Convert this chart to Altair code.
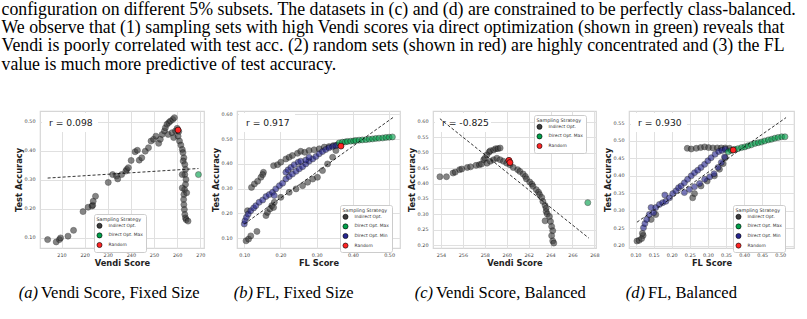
import altair as alt
import pandas as pd

# ---------------- data ----------------
# Panel (a): Vendi Score, Fixed Size
a_ind_x = [204.0, 207.7, 209.1, 209.6, 212.8, 215.2, 219.3, 221.5, 223.2, 223.5, 223.7, 224.7, 230.2, 232.1, 233.8,
           234.3, 236.0, 237.8, 238.2, 238.9, 240.1, 241.8, 242.8, 243.6, 244.7, 246.2, 247.6, 248.7, 249.8, 250.8,
           252.0, 252.7, 253.5, 254.5, 254.9, 255.6, 256.4, 257.1, 258.1, 258.8, 256.1, 257.8, 258.5, 259.3, 260.0,
           260.7, 260.4, 261.0, 261.6, 262.2, 262.5, 262.9, 262.6, 263.3, 263.6, 263.3, 263.8, 263.6, 263.2, 262.9,
           262.8, 262.9, 263.1, 263.3, 263.6, 263.9, 264.7, 262.2, 264.1, 262.2]
a_ind_y = [0.093, 0.085, 0.093, 0.099, 0.105, 0.125, 0.190, 0.205, 0.209, 0.212, 0.226, 0.243, 0.291, 0.318, 0.313,
           0.303, 0.318, 0.330, 0.336, 0.342, 0.367, 0.397, 0.402, 0.368, 0.376, 0.399, 0.411, 0.434, 0.440, 0.451,
           0.426, 0.440, 0.457, 0.469, 0.480, 0.492, 0.498, 0.503, 0.509, 0.515, 0.457, 0.463, 0.446, 0.469, 0.478,
           0.467, 0.451, 0.434, 0.420, 0.405, 0.394, 0.376, 0.365, 0.353, 0.336, 0.318, 0.301, 0.284, 0.266, 0.249,
           0.232, 0.214, 0.197, 0.180, 0.168, 0.162, 0.157, 0.272, 0.255, 0.318]
a_max_x = [269.2]
a_max_y = [0.318]
a_rnd_x = [260.4]
a_rnd_y = [0.472]
a_fit_x = [204.0, 269.2]
a_fit_y = [0.306, 0.339]

# Panel (b): FL, Fixed Size
b_ind_x = [0.120, 0.128, 0.137, 0.146, 0.153, 0.151, 0.181, 0.192, 0.201, 0.215, 0.224, 0.233, 0.247, 0.256, 0.267,
           0.279, 0.293, 0.307, 0.321, 0.334, 0.346, 0.357,
           0.105, 0.112, 0.118, 0.135, 0.160, 0.164, 0.171, 0.176, 0.183, 0.181, 0.201, 0.224, 0.243, 0.261, 0.275,
           0.289, 0.302, 0.316, 0.330, 0.344, 0.353, 0.109]
b_ind_y = [0.305, 0.319, 0.330, 0.346, 0.366, 0.357, 0.393, 0.397, 0.407, 0.420, 0.427, 0.434, 0.443, 0.451, 0.447,
           0.454, 0.457, 0.461, 0.468, 0.470, 0.474, 0.477,
           0.089, 0.096, 0.109, 0.127, 0.191, 0.204, 0.218, 0.231, 0.245, 0.224, 0.265, 0.285, 0.299, 0.312, 0.326,
           0.339, 0.346, 0.373, 0.400, 0.427, 0.454, 0.211]
b_min_x = [0.100, 0.102, 0.106, 0.111, 0.118, 0.126, 0.132, 0.141, 0.151, 0.160, 0.169, 0.178, 0.187, 0.197, 0.206,
           0.215, 0.224, 0.233, 0.243, 0.252, 0.261, 0.270, 0.279, 0.289, 0.298, 0.307, 0.316, 0.325, 0.334, 0.344,
           0.353, 0.215, 0.221, 0.229, 0.238, 0.249, 0.256, 0.270, 0.279, 0.183]
b_min_y = [0.157, 0.170, 0.184, 0.197, 0.211, 0.222, 0.231, 0.245, 0.254, 0.268, 0.276, 0.285, 0.299, 0.312, 0.322,
           0.339, 0.349, 0.359, 0.370, 0.380, 0.389, 0.400, 0.411, 0.420, 0.430, 0.441, 0.450, 0.458, 0.465, 0.470,
           0.474, 0.366, 0.376, 0.386, 0.397, 0.407, 0.411, 0.416, 0.427, 0.272]
b_max_x = [0.362, 0.371, 0.379, 0.385, 0.394, 0.402, 0.408, 0.417, 0.426, 0.436, 0.445, 0.454, 0.463, 0.472, 0.482,
           0.491, 0.500, 0.509]
b_max_y = [0.485, 0.488, 0.489, 0.491, 0.492, 0.493, 0.495, 0.496, 0.497, 0.498, 0.500, 0.501, 0.503, 0.504, 0.505,
           0.507, 0.508, 0.509]
b_rnd_x = [0.367]
b_rnd_y = [0.472]
b_fit_x = [0.100, 0.512]
b_fit_y = [0.157, 0.589]

# Panel (c): Vendi Score, Balanced
c_ind_x = [253.9, 254.5, 255.1, 255.3, 255.7, 255.9, 256.4, 256.7, 257.2, 257.5, 257.7, 257.9, 258.0, 258.2, 258.4,
           258.5, 258.8, 259.0, 259.2, 259.4, 258.2, 258.5, 258.8, 259.1, 259.4, 259.7, 260.0, 260.3, 260.6, 261.0,
           261.2, 261.5, 261.7, 261.8, 262.1, 262.3, 262.4, 262.7, 262.9, 263.0, 263.2, 263.3, 263.5, 263.6, 263.6,
           263.7, 263.5, 263.9, 264.0, 264.1, 264.2, 264.1, 264.2, 264.3]
c_ind_y = [0.422, 0.422, 0.434, 0.437, 0.445, 0.447, 0.452, 0.454, 0.459, 0.461, 0.463, 0.477, 0.482, 0.493, 0.502,
           0.506, 0.509, 0.513, 0.513, 0.515, 0.466, 0.472, 0.477, 0.482, 0.477, 0.472, 0.466, 0.461, 0.452, 0.445,
           0.439, 0.431, 0.423, 0.415, 0.405, 0.398, 0.391, 0.380, 0.372, 0.364, 0.355, 0.342, 0.329, 0.320, 0.309,
           0.301, 0.279, 0.293, 0.277, 0.261, 0.247, 0.231, 0.214, 0.207]
c_max_x = [267.4]
c_max_y = [0.338]
c_rnd_x = [260.2, 260.3]
c_rnd_y = [0.475, 0.468]
c_fit_x = [253.9, 267.5]
c_fit_y = [0.610, 0.223]

# Panel (d): FL, Balanced
d_ind_x = [0.243, 0.254, 0.268, 0.280, 0.291, 0.302, 0.314, 0.326, 0.337, 0.348, 0.360,
           0.104, 0.110, 0.117, 0.121, 0.119, 0.143, 0.156, 0.258, 0.263, 0.281, 0.298, 0.318, 0.332, 0.342, 0.348]
d_ind_y = [0.479, 0.477, 0.479, 0.481, 0.483, 0.481, 0.480, 0.480, 0.480, 0.480, 0.479,
           0.213, 0.215, 0.220, 0.229, 0.235, 0.275, 0.289, 0.337, 0.349, 0.371, 0.385, 0.400, 0.419, 0.435, 0.452]
d_min_x = [0.122, 0.126, 0.131, 0.138, 0.143, 0.150, 0.156, 0.166, 0.175, 0.181, 0.184, 0.194, 0.203, 0.212, 0.219,
           0.226, 0.235, 0.244, 0.254, 0.263, 0.272, 0.281, 0.291, 0.300, 0.309, 0.320, 0.330, 0.339, 0.348,
           0.235, 0.249, 0.263, 0.277, 0.291, 0.305, 0.317, 0.328, 0.337, 0.346]
d_min_y = [0.251, 0.263, 0.275, 0.289, 0.309, 0.294, 0.309, 0.318, 0.323, 0.345, 0.327, 0.337, 0.349, 0.357, 0.366,
           0.371, 0.380, 0.390, 0.400, 0.409, 0.416, 0.424, 0.433, 0.443, 0.452, 0.462, 0.470, 0.473, 0.476,
           0.352, 0.361, 0.369, 0.378, 0.390, 0.397, 0.406, 0.424, 0.438, 0.454]
d_max_x = [0.356, 0.365, 0.374, 0.383, 0.393, 0.402, 0.411, 0.420, 0.430, 0.439, 0.448, 0.457, 0.467, 0.476, 0.485,
           0.494, 0.504, 0.513]
d_max_y = [0.469, 0.473, 0.476, 0.478, 0.481, 0.483, 0.486, 0.489, 0.493, 0.495, 0.497, 0.500, 0.503, 0.505, 0.508,
           0.510, 0.512, 0.512]
d_rnd_x = [0.370]
d_rnd_y = [0.474]
d_fit_x = [0.104, 0.516]
d_fit_y = [0.267, 0.567]

r_labels = ["r = 0.098", "r = 0.917", "r = -0.825", "r = 0.930"]
cap_tags = ["(a)", "(b)", "(c)", "(d)"]
cap_texts = ["Vendi Score, Fixed Size", "FL, Fixed Size", "Vendi Score, Balanced", "FL, Balanced"]
paragraph = [
    "configuration on different 5% subsets. The datasets in (c) and (d) are constrained to be perfectly class-balanced.",
    "We observe that (1) sampling sets with high Vendi scores via direct optimization (shown in green) reveals that",
    "Vendi is poorly correlated with test acc. (2) random sets (shown in red) are highly concentrated and (3) the FL",
    "value is much more predictive of test accuracy.",
]

STRATS = ["Indirect Opt.", "Direct Opt. Max", "Direct Opt. Min", "Random"]
COLORS = {"Indirect Opt.": "#3c3c3c", "Direct Opt. Max": "#00a04a",
          "Direct Opt. Min": "#25258f", "Random": "#ff2424"}

SANS = "DejaVu Sans"
SERIF = "Liberation Serif"


def make_df(series):
    rows = []
    for name, xs, ys in series:
        for x, y in zip(xs, ys):
            rows.append({"x": x, "y": y, "s": name})
    return pd.DataFrame(rows)


def panel(series, fit_x, fit_y, xdom, ydom, xticks, yticks, xfmt, yfmt, xtitle,
          rlab, tag, cap, legx, legy, width, cap_x):
    df = make_df(series)
    present = [s for s in STRATS if s in set(df["s"])]
    xs = alt.Scale(domain=xdom, nice=False, zero=False)
    ys = alt.Scale(domain=ydom, nice=False, zero=False)
    xax = alt.Axis(values=xticks, format=xfmt, labelOverlap=False, labelFlush=False,
                   tickCount=len(xticks))
    yax = alt.Axis(values=yticks, format=yfmt, labelOverlap=False, labelFlush=False,
                   tickCount=len(yticks))
    X = alt.X("x:Q", scale=xs, title=xtitle, axis=xax)
    Y = alt.Y("y:Q", scale=ys, title="Test Accuracy", axis=yax)
    pts = alt.Chart(df).mark_circle(size=36, stroke="black", strokeWidth=0.6).encode(
        x=X, y=Y,
        color=alt.Color("s:N", scale=alt.Scale(domain=present, range=[COLORS[s] for s in present]),
                        sort=present,
                        legend=alt.Legend(title="Sampling Strategy", orient="none",
                                          legendX=legx, legendY=legy, symbolOpacity=1)),
        opacity=alt.condition(alt.datum.s == "Random", alt.value(1.0), alt.value(0.62)),
    )
    box_df = pd.DataFrame({"t": [rlab]})
    box = alt.Chart(box_df).mark_rect(color="white").encode(
        x=alt.value(2), x2=alt.value(58), y=alt.value(2), y2=alt.value(21))
    rtxt = alt.Chart(box_df).mark_text(align="left", baseline="middle", font=SANS, fontSize=9.2,
                                       color="#1a1a1a").encode(
        x=alt.value(9), y=alt.value(12), text="t:N")
    fit = alt.Chart(pd.DataFrame({"x": fit_x, "y": fit_y})).mark_line(
        color="black", strokeWidth=0.8, strokeDash=[3, 2]).encode(x=X, y=Y)
    cap_df = pd.DataFrame({"tag": [tag], "cap": [cap]})
    c1 = alt.Chart(cap_df).mark_text(align="right", baseline="middle", font=SERIF, fontSize=16.5,
                                     fontStyle="italic", color="black").encode(
        x=alt.value(cap_x), y=alt.value(182), text="tag:N")
    c2 = alt.Chart(cap_df).mark_text(align="left", baseline="middle", font=SERIF, fontSize=16.5,
                                     color="black").encode(
        x=alt.value(cap_x + 3), y=alt.value(182), text="cap:N")
    return alt.layer(pts, box, rtxt, fit, c1, c2).properties(width=width, height=137)


pa = panel([("Indirect Opt.", a_ind_x, a_ind_y), ("Direct Opt. Max", a_max_x, a_max_y),
            ("Random", a_rnd_x, a_rnd_y)], a_fit_x, a_fit_y,
           [200.7, 271.6], [0.064, 0.538], [210, 220, 230, 240, 250, 260, 270],
           [0.1, 0.2, 0.3, 0.4, 0.5], "d", ".2f", "Vendi Score",
           r_labels[0], cap_tags[0], cap_texts[0], 54, 103, 164, -2)
pb = panel([("Indirect Opt.", b_ind_x, b_ind_y), ("Direct Opt. Min", b_min_x, b_min_y),
            ("Direct Opt. Max", b_max_x, b_max_y), ("Random", b_rnd_x, b_rnd_y)], b_fit_x, b_fit_y,
           [0.08, 0.53], [0.06, 0.614], [0.1, 0.2, 0.3, 0.4, 0.5],
           [0.1, 0.2, 0.3, 0.4, 0.5, 0.6], ".2f", ".2f", "FL Score",
           r_labels[1], cap_tags[1], cap_texts[1], 103, 94, 163, 16)
pc = panel([("Indirect Opt.", c_ind_x, c_ind_y), ("Direct Opt. Max", c_max_x, c_max_y),
            ("Random", c_rnd_x, c_rnd_y)], c_fit_x, c_fit_y,
           [253.27, 268.15], [0.191, 0.635], [254, 256, 258, 260, 262, 264, 266, 268],
           [0.2, 0.25, 0.3, 0.35, 0.4, 0.45, 0.5, 0.55, 0.6], "d", ".2f", "Vendi Score",
           r_labels[2], cap_tags[2], cap_texts[2], 101, 4, 163, 0)
pd_ = panel([("Indirect Opt.", d_ind_x, d_ind_y), ("Direct Opt. Min", d_min_x, d_min_y),
             ("Direct Opt. Max", d_max_x, d_max_y), ("Random", d_rnd_x, d_rnd_y)], d_fit_x, d_fit_y,
            [0.082, 0.538], [0.193, 0.586], [0.1, 0.15, 0.2, 0.25, 0.3, 0.35, 0.4, 0.45, 0.5],
            [0.2, 0.25, 0.3, 0.35, 0.4, 0.45, 0.5, 0.55], ".2f", ".2f", "FL Score",
            r_labels[3], cap_tags[3], cap_texts[3], 104, 94, 165, 16)

chart = alt.hconcat(pa, pb, pc, pd_, spacing=33, bounds="flush").resolve_scale(
    x="independent", y="independent", color="independent", opacity="independent"
).resolve_legend(color="independent", opacity="independent").properties(
    title=alt.TitleParams(text=paragraph, font=SERIF, fontSize=17.8, fontWeight="normal",
                          color="black", anchor="start", frame="bounds", lineHeight=18.3,
                          offset=37, dx=-12),
    padding={"left": 1, "top": 0, "right": 0, "bottom": 0},
    background="white",
).configure_view(stroke="#d6d6d6", strokeWidth=1.2).configure_axis(
    labelFont=SANS, labelFontSize=4.9, labelColor="#444444", labelPadding=4, labelOverlap=False,
    titleFont=SANS, titleFontSize=8.3, titleFontWeight="bold", titleColor="#222222", titlePadding=2,
    domain=False, ticks=False, gridColor="#e0e0e0", gridWidth=1,
).configure_axisY(labelPadding=5, titlePadding=1).configure_legend(
    titleFont=SANS, titleFontSize=4.8, titleFontWeight="normal", titleColor="#333333",
    labelFont=SANS, labelFontSize=4.4, labelColor="#333333",
    fillColor="white", strokeColor="#cccccc", padding=2.5, cornerRadius=2,
    symbolType="circle", symbolSize=26, symbolStrokeColor="black", symbolStrokeWidth=0.6,
    rowPadding=1.6, titlePadding=1.5, labelOffset=6,
)

chart.save("out.html", embed_options={"renderer": "svg", "actions": False})
